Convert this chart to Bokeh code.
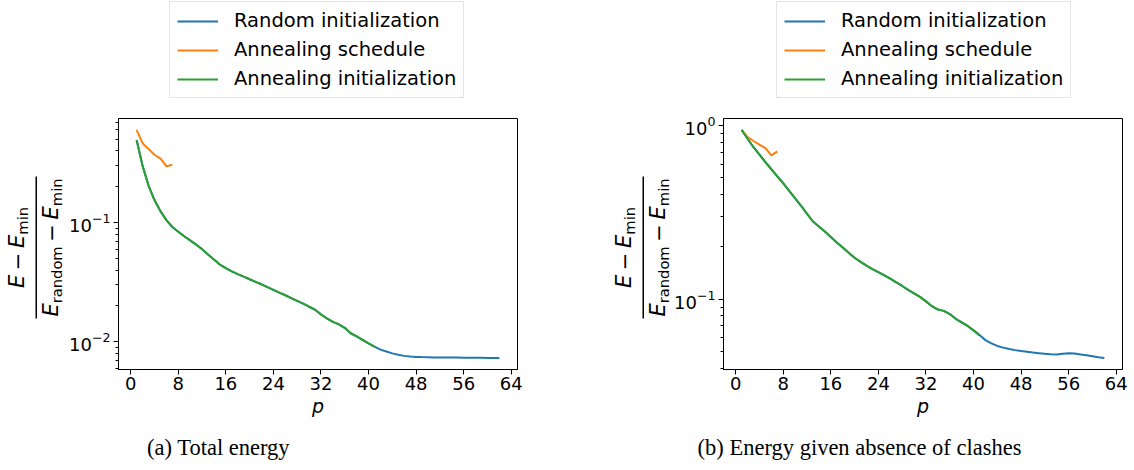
import math
from bokeh.plotting import figure
from bokeh.layouts import row, column
from bokeh.models import (Range1d, FixedTicker, LogTickFormatter, Legend, LegendItem,
                          Label, BoxAnnotation)
from bokeh.embed import file_html
from bokeh.resources import INLINE

# ---------------- data ----------------
p_random = list(range(1, 63))
p_schedule = list(range(1, 8))
p_anneal_init = list(range(1, 42))

total_random = [0.495, 0.30, 0.205, 0.155, 0.125, 0.105, 0.092, 0.084, 0.077, 0.071,
                0.0655, 0.060, 0.054, 0.049, 0.0445, 0.0415, 0.039, 0.037, 0.0352, 0.0335,
                0.0319, 0.0304, 0.0288, 0.0273, 0.0259, 0.0246, 0.0233, 0.0221, 0.0209, 0.0197,
                0.0186, 0.0170, 0.0157, 0.0147, 0.0140, 0.0131, 0.0118, 0.0111, 0.0104, 0.0097,
                0.0091, 0.0086, 0.0083, 0.0080, 0.0078, 0.00762, 0.00752, 0.00747, 0.00744, 0.00742,
                0.0074, 0.00739, 0.00738, 0.00737, 0.00737, 0.00736, 0.00736, 0.00735, 0.00734, 0.00733,
                0.00731, 0.0073]
total_schedule = [0.601, 0.465, 0.415, 0.372, 0.345, 0.298, 0.306]
total_anneal_init = total_random[:41]

clash_random = [0.944, 0.84, 0.75, 0.68, 0.615, 0.56, 0.51, 0.465, 0.42, 0.38,
                0.345, 0.31, 0.28, 0.262, 0.245, 0.228, 0.212, 0.198, 0.185, 0.173,
                0.164, 0.156, 0.149, 0.143, 0.137, 0.131, 0.125, 0.119, 0.113, 0.108,
                0.103, 0.097, 0.091, 0.087, 0.0855, 0.082, 0.077, 0.0735, 0.070, 0.066,
                0.062, 0.058, 0.0555, 0.0537, 0.0525, 0.0515, 0.0508, 0.0502, 0.0497, 0.0492,
                0.0488, 0.0484, 0.0481, 0.048, 0.0484, 0.0487, 0.0485, 0.048, 0.0474, 0.0468,
                0.0462, 0.0457]
clash_schedule = [0.944, 0.857, 0.815, 0.777, 0.741, 0.673, 0.71]
clash_anneal_init = clash_random[:41]

x_ticks = [0, 8, 16, 24, 32, 40, 48, 56, 64]
series_labels = ["Random initialization", "Annealing schedule", "Annealing initialization"]
captions = ["(a) Total energy", "(b) Energy given absence of clashes"]

BLUE, ORANGE, GREEN = "#1f77b4", "#ff7f0e", "#2ca02c"
COLORS = [BLUE, ORANGE, GREEN]
FONT = "DejaVu Sans"

TOP_H = 108          # legend strip (page y 0..108)
MB_TOP = 10          # plot strip starts at 108, frame top at 118
PLOT_H = 322         # plot strip  (page y 108..430)
CAP_H = 40           # caption strip (page y 430..470)
FRAME_H = 251
MB_BOTTOM = PLOT_H - FRAME_H - MB_TOP

ADV = {'E': 0.632, '−': 0.838, 'm': 0.974, 'i': 0.278, 'n': 0.634, 'r': 0.411,
       'a': 0.613, 'd': 0.635, 'o': 0.612}


def text_w(s, size):
    return sum(ADV[c] for c in s) * size


def log_range(vals):
    lo, hi = math.log10(min(vals)), math.log10(max(vals))
    m = (hi - lo) * 0.05
    return 10 ** (lo - m), 10 ** (hi + m)


def minor_ticks(lo, hi):
    out = []
    for e in range(-4, 2):
        for k in range(2, 10):
            v = k * 10 ** e
            if lo <= v <= hi:
                out.append(v)
    return out


def blank_fig(width, height, mb_top=0, mb_bottom=0):
    f = figure(width=width, height=height, output_backend="svg", toolbar_location=None,
               x_axis_location=None, y_axis_location=None, min_border=0,
               min_border_top=mb_top, min_border_bottom=mb_bottom,
               x_range=Range1d(0, 1), y_range=Range1d(0, 1))
    f.grid.grid_line_color = None
    f.outline_line_color = None
    f.background_fill_color = "white"
    f.border_fill_color = "white"
    return f


def ylabel_fig(width, bar_x, num_base, den_base, cy, F=21):
    f = blank_fig(width, PLOT_H, MB_TOP, MB_BOTTOM)
    sub = 0.7 * F
    drop = 6
    gap = 0.22 * F

    def place(seq, base):
        total = sum(text_w(t, s) + (gap if k == "gap" else 0) for k, t, s, d, st in seq)
        y = cy - total / 2
        for kind, txt, size, dr, style in seq:
            if kind != "gap":
                f.add_layout(Label(x=base + dr, y=y, x_units="screen", y_units="screen",
                                   text=txt, angle=math.pi / 2, text_align="left",
                                   text_baseline="alphabetic", text_font=FONT,
                                   text_font_style=style, text_font_size=f"{size:.1f}px",
                                   text_color="black"))
            y += text_w(txt, size) + (gap if kind == "gap" else 0)

    num = [("t", "E", F, 0, "italic"), ("gap", "", 0, 0, "normal"), ("t", "−", F, 0, "normal"),
           ("gap", "", 0, 0, "normal"), ("t", "E", F, 0, "italic"), ("t", "min", sub, drop, "normal")]
    den = [("t", "E", F, 0, "italic"), ("t", "random", sub, drop, "normal"), ("gap", "", 0, 0, "normal"),
           ("t", "−", F, 0, "normal"), ("gap", "", 0, 0, "normal"), ("t", "E", F, 0, "italic"),
           ("t", "min", sub, drop, "normal")]
    place(num, num_base)
    place(den, den_base)
    f.add_layout(BoxAnnotation(left=bar_x, right=bar_x + 1.5, bottom=cy - 71, top=cy + 71,
                               left_units="screen", right_units="screen",
                               bottom_units="screen", top_units="screen",
                               fill_color="black", fill_alpha=1, line_color=None))
    return f


def legend_fig(width, legend_x, ys):
    f = blank_fig(width, TOP_H)
    f.x_range = Range1d(0, 64)
    f.y_range = Range1d(0.001, 1)
    xs = [p_random, p_schedule, p_anneal_init]
    rs = []
    for x, y, c in zip(xs, ys, COLORS):
        rs.append(f.line(x, y, line_color=c, line_width=2, visible=False))
    legend = Legend(items=[LegendItem(label=lab, renderers=[r]) for lab, r in zip(series_labels, rs)],
                    location=(legend_x, TOP_H - 98), orientation="vertical",
                    glyph_width=41, glyph_height=22, label_height=22, label_standoff=16,
                    spacing=6, padding=7, margin=0,
                    label_text_font=FONT, label_text_font_size="19.5px",
                    label_text_color="black",
                    border_line_color="#cccccc", border_line_width=1,
                    background_fill_color="white", background_fill_alpha=0.8)
    f.add_layout(legend, "center")
    return f


def make_panel(y_random, y_sched, y_init, width, mb_left, mb_right, major):
    lo, hi = log_range(y_random + y_sched + y_init)
    p = figure(width=width, height=PLOT_H, y_axis_type="log", output_backend="svg",
               toolbar_location=None, x_range=Range1d(-2.05, 65.05), y_range=Range1d(lo, hi),
               min_border_left=mb_left, min_border_right=mb_right, min_border_top=MB_TOP,
               min_border_bottom=MB_BOTTOM)
    p.xgrid.grid_line_color = None
    p.ygrid.grid_line_color = None
    p.outline_line_color = "black"
    p.outline_line_alpha = 1
    p.outline_line_width = 1
    p.background_fill_color = "white"
    p.border_fill_color = "white"

    p.line(p_random, y_random, line_color=BLUE, line_width=2)
    p.line(p_schedule, y_sched, line_color=ORANGE, line_width=2)
    p.line(p_anneal_init, y_init, line_color=GREEN, line_width=2)

    p.xaxis.ticker = FixedTicker(ticks=x_ticks)
    p.xaxis.minor_tick_line_color = None
    p.xaxis.axis_label = "p"
    p.xaxis.axis_label_text_font_style = "italic"
    p.xaxis.axis_label_text_font = FONT
    p.xaxis.axis_label_text_font_size = "19px"
    p.xaxis.axis_label_text_color = "black"
    p.xaxis.axis_label_standoff = 2
    p.xaxis.major_label_standoff = 2

    p.yaxis.ticker = FixedTicker(ticks=major, minor_ticks=minor_ticks(lo, hi))
    p.yaxis.formatter = LogTickFormatter()
    p.yaxis.major_label_standoff = 3

    for ax in (p.xaxis[0], p.yaxis[0]):
        ax.major_label_text_font = FONT
        ax.major_label_text_font_size = "18px"
        ax.major_label_text_color = "black"
        ax.axis_line_color = "black"
        ax.major_tick_line_color = "black"
        ax.major_tick_out = 5
        ax.major_tick_in = 0
        ax.minor_tick_out = 3
        ax.minor_tick_in = 0
    p.yaxis.minor_tick_line_color = "black"
    return p


cy = FRAME_H - (247 - 118)
ylab_a = ylabel_fig(66, bar_x=35, num_base=16, den_base=50, cy=cy)
plot_a = make_panel(total_random, total_schedule, total_anneal_init, 501, 52, 50, [0.01, 0.1])
ylab_b = ylabel_fig(104, bar_x=75, num_base=56, den_base=90, cy=cy)
plot_b = make_panel(clash_random, clash_schedule, clash_anneal_init, 463, 52, 12, [0.1, 1.0])

leg_a = legend_fig(567, 169, [total_random, total_schedule, total_anneal_init])
leg_b = legend_fig(567, 776 - 567, [clash_random, clash_schedule, clash_anneal_init])

cap = blank_fig(1134, CAP_H)
cap.add_layout(Label(x=218, y=23, x_units="screen", y_units="screen", text=captions[0],
                     text_align="center", text_baseline="middle",
                     text_font="Liberation Serif", text_font_size="22.5px", text_color="black"))
cap.add_layout(Label(x=859, y=23, x_units="screen", y_units="screen", text=captions[1],
                     text_align="center", text_baseline="middle",
                     text_font="Liberation Serif", text_font_size="22.5px", text_color="black"))

layout = column(row(leg_a, leg_b), row(ylab_a, plot_a, ylab_b, plot_b), cap)
open("out.html", "w").write(file_html(layout, INLINE))
